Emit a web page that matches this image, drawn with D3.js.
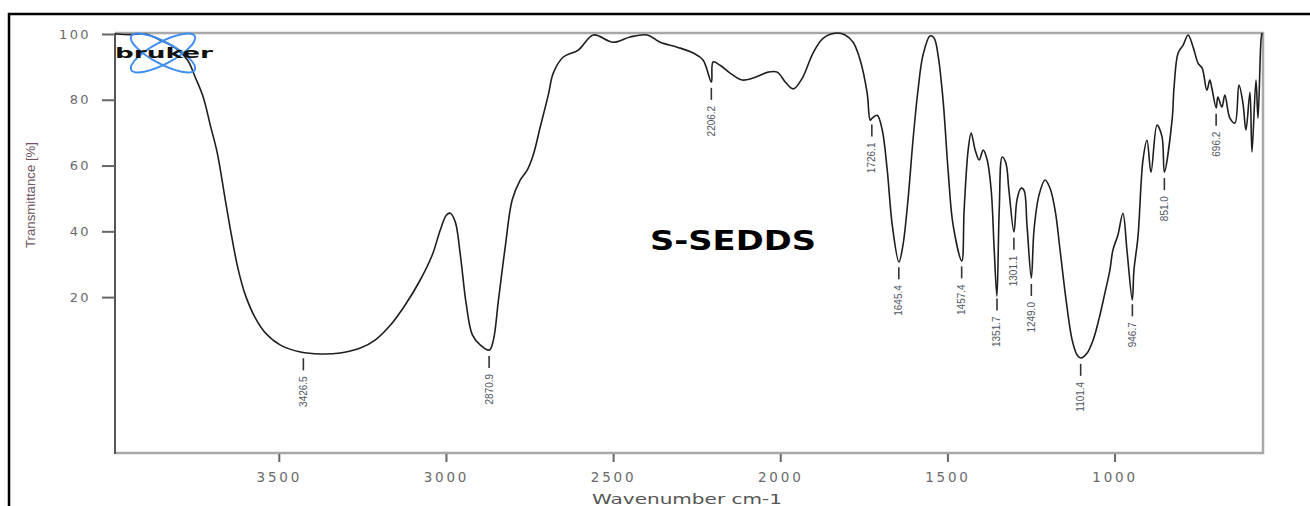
<!DOCTYPE html>
<meta charset="utf-8">
<style>
  body { margin: 0; background: #fff; }
  .tick text { fill: #6a6a6a; font-family: "DejaVu Sans", sans-serif; }
  .tick line { stroke: #666; stroke-width: 2px; }
  .curve { fill: none; stroke: #1e1e1e; stroke-width: 1.6px; stroke-linejoin: round; }
  .plabel { fill: #4f5660; font-family: "Liberation Sans", Arial, sans-serif; font-size: 10px; }
  .pline { stroke: #333; stroke-width: 1.6px; }
</style>
<body>
<script src="https://cdn.jsdelivr.net/npm/d3@7"></script>
<script>

  // spectrum: wavenumber (cm-1) and transmittance (%)
  var wavenumber = [3989, 3944, 3899, 3854, 3809, 3773, 3749, 3726, 3705, 3684, 3660, 3639, 3621, 3600, 3570, 3540,
    3495, 3435, 3376, 3316, 3256, 3211, 3166, 3122, 3077, 3041, 3017, 2999, 2987, 2972, 2957, 2939, 2921, 2897,
    2870, 2858, 2843, 2822, 2802, 2778, 2757, 2739, 2718, 2694, 2679, 2649, 2604, 2559, 2500, 2449, 2398, 2359,
    2308, 2260, 2231, 2206, 2201, 2180, 2150, 2114, 2081, 2036, 2009, 1985, 1961, 1934, 1902, 1872, 1830, 1806,
    1782, 1761, 1740, 1731, 1725, 1710, 1695, 1680, 1665, 1645, 1633, 1618, 1603, 1588, 1573, 1552, 1540, 1528,
    1513, 1498, 1483, 1457, 1450, 1438, 1429, 1417, 1405, 1393, 1381, 1369, 1360, 1352, 1345, 1336, 1325, 1316,
    1301, 1292, 1280, 1271, 1262, 1249, 1241, 1226, 1208, 1193, 1178, 1163, 1145, 1127, 1112, 1101, 1082, 1064,
    1046, 1029, 1014, 1005, 990, 975, 963, 947, 942, 930, 915, 903, 891, 873, 858, 851, 828, 822, 810, 795, 780,
    765, 750, 738, 724, 715, 709, 696, 691, 679, 670, 655, 640, 628, 616, 607, 595, 589, 577, 571, 562, 559];

  var transmittance = [100, 99.8, 100, 98.1, 95.7, 92.1, 86.6, 80.8, 72.3, 63.8, 49.5, 37.3, 28.2, 20.6, 13.6, 9.1,
    5.4, 3.3, 2.7, 3.0, 4.5, 7.0, 11.5, 17.6, 25.2, 32.8, 40.4, 44.9, 45.5, 42.8, 32.8, 17.6, 8.5, 5.4,
    3.9, 7.0, 19.1, 35.8, 49.5, 55.6, 58.6, 63.2, 71.7, 81.4, 88.1, 93.0, 95.1, 99.7, 97.5, 99.1, 99.7, 97.5,
    96.0, 94.2, 92.1, 85.4, 91.5, 90.5, 88.1, 86.0, 86.6, 88.4, 88.4, 85.4, 83.3, 86.6, 94.2, 98.7, 100.3, 99.7,
    97.5, 92.1, 82.0, 73.8, 74.4, 75.3, 70.8, 58.6, 41.9, 30.7, 35.8, 49.5, 67.7, 82.9, 93.6, 99.4, 98.8, 93.6,
    79.9, 58.6, 41.9, 31.0, 46.5, 64.7, 69.9, 64.7, 61.7, 64.7, 61.7, 52.5, 34.3, 20.3, 46.5, 62.6, 60.7, 52.5,
    39.8, 49.5, 53.1, 52.5, 41.9, 25.8, 40.4, 51.0, 55.6, 53.1, 46.5, 34.3, 19.1, 7.0, 2.4, 1.5, 3.0, 7.0,
    13.6, 21.2, 28.2, 34.3, 38.9, 45.5, 34.3, 19.1, 28.2, 38.3, 61.7, 67.7, 58.0, 72.3, 68.7, 58.0, 73.8, 83.9, 94.2, 96.6, 99.7,
    96.0, 91.1, 89.6, 82.9, 86.0, 83.5, 77.5, 80.8, 77.8, 81.4, 74.4, 72.9, 84.5, 79.0, 70.8, 82.3, 64.1, 86.0, 74.4, 98.1, 100.3];

  var peakWn = [3426.5, 2870.9, 2206.2, 1726.1, 1645.4, 1457.4, 1351.7, 1301.1, 1249.0, 1101.4, 946.7, 851.0, 696.2];
  var peakText = ["3426.5", "2870.9", "2206.2", "1726.1", "1645.4", "1457.4", "1351.7", "1301.1", "1249.0", "1101.4", "946.7", "851.0", "696.2"];

  var xTicks = [3500, 3000, 2500, 2000, 1500, 1000];
  var yTicks = [20, 40, 60, 80, 100];

  var width = 1310,
    height = 506,
    plotL = 115, plotR = 1263, plotT = 33, plotB = 453;

  var x = d3.scaleLinear().domain([3990, 556]).range([plotL, plotR]);
  var y = d3.scaleLinear().domain([-27.4, 100.3]).range([plotB, plotT]);

  var data = wavenumber.map(function (w, i) { return { w: w, t: transmittance[i] }; });

  var svg = d3.select("body").append("svg")
    .attr("width", width)
    .attr("height", height);

  // outer black frame (top + left)
  svg.append("path")
    .attr("d", "M9,506V14H1310")
    .attr("fill", "none")
    .attr("stroke", "#000")
    .attr("stroke-width", 2.5);

  // plot frame
  svg.append("path")
    .attr("d", "M" + plotL + "," + plotT + "H" + plotR + "V" + plotB + "H" + plotL)
    .attr("fill", "none")
    .attr("stroke", "#a8a8a8")
    .attr("stroke-width", 2.5);
  svg.append("line")
    .attr("x1", plotL).attr("x2", plotL)
    .attr("y1", plotT).attr("y2", plotB + 1)
    .attr("stroke", "#555")
    .attr("stroke-width", 2);

  var yAxis = svg.append("g")
    .attr("transform", "translate(" + plotL + ",0)")
    .call(d3.axisLeft(y).tickValues(yTicks).tickSize(13).tickPadding(11));
  yAxis.select(".domain").remove();
  yAxis.selectAll(".tick line").attr("stroke", "#999");
  yAxis.selectAll(".tick text").style("font-size", "13px").style("letter-spacing", "2.4px");

  var xAxis = svg.append("g")
    .attr("transform", "translate(0," + (plotB + 1) + ")")
    .call(d3.axisBottom(x).tickValues(xTicks).tickSize(8).tickPadding(10).tickFormat(d3.format("d")));
  xAxis.select(".domain").remove();
  xAxis.selectAll(".tick text").style("font-size", "13.5px").style("letter-spacing", "2.8px");

  // axis titles
  svg.append("text")
    .attr("transform", "translate(35,195) rotate(-90)")
    .attr("text-anchor", "middle")
    .attr("textLength", 106)
    .attr("lengthAdjust", "spacingAndGlyphs")
    .attr("fill", "#6e5560")
    .style("font-family", "'Liberation Sans', Arial, sans-serif")
    .style("font-size", "13px")
    .text("Transmittance [%]");

  svg.append("text")
    .attr("x", 687)
    .attr("y", 504)
    .attr("text-anchor", "middle")
    .attr("textLength", 190)
    .attr("lengthAdjust", "spacingAndGlyphs")
    .attr("fill", "#555")
    .style("font-family", "'DejaVu Sans', sans-serif")
    .style("font-size", "14px")
    .text("Wavenumber cm-1");

  // spectrum
  var line = d3.line()
    .x(function (d) { return x(d.w); })
    .y(function (d) { return y(d.t); })
    .curve(d3.curveCatmullRom.alpha(0.5));

  svg.append("path")
    .datum(data)
    .attr("class", "curve")
    .attr("d", line);

  // peak labels
  var bis = d3.bisector(function (d) { return -d.w; }).left;
  function tAt(w) {
    var i = bis(data, -w);
    if (i <= 0) return data[0].t;
    var a = data[i - 1], b = data[i];
    return a.t + (b.t - a.t) * (w - a.w) / (b.w - a.w);
  }

  var pk = svg.append("g").selectAll("g")
    .data(peakWn)
    .enter().append("g")
    .attr("transform", function (d) { return "translate(" + x(d) + "," + y(tAt(d)) + ")"; });

  pk.append("line")
    .attr("class", "pline")
    .attr("y1", 6).attr("y2", 18);

  pk.append("text")
    .attr("class", "plabel")
    .attr("transform", "translate(0,24) rotate(-90)")
    .attr("text-anchor", "end")
    .attr("dy", "0.35em")
    .text(function (d, i) { return peakText[i]; });

  // sample name
  svg.append("text")
    .attr("x", 733)
    .attr("y", 250)
    .attr("text-anchor", "middle")
    .attr("textLength", 166)
    .attr("lengthAdjust", "spacingAndGlyphs")
    .attr("fill", "#000")
    .style("font-family", "'DejaVu Sans', sans-serif")
    .style("font-weight", "bold")
    .style("font-size", "27px")
    .text("S-SEDDS");

  // bruker logo
  var logo = svg.append("g").attr("transform", "translate(163,53)");
  [-28, 28].forEach(function (a) {
    logo.append("ellipse")
      .attr("rx", 36).attr("ry", 11)
      .attr("transform", "rotate(" + a + ")")
      .attr("fill", "none")
      .attr("stroke", "#3d8ef0")
      .attr("stroke-width", 2);
  });
  logo.append("text")
    .attr("x", -48)
    .attr("y", 5)
    .attr("textLength", 98)
    .attr("lengthAdjust", "spacingAndGlyphs")
    .attr("fill", "#111")
    .style("font-family", "'DejaVu Sans', sans-serif")
    .style("font-weight", "bold")
    .style("font-size", "14px")
    .text("bruker");

</script>
